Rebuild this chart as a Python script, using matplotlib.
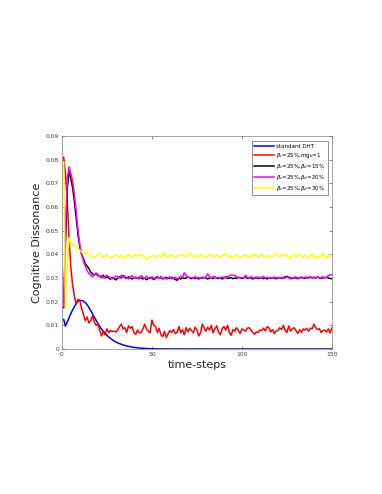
import numpy as np
import matplotlib
matplotlib.use("Agg")
import matplotlib.pyplot as plt

labels = ["standard DHT",
          r"$\beta_c$=25%,mg$_b$=1",
          r"$\beta_c$=25%,$\beta_d$=15%",
          r"$\beta_c$=25%,$\beta_d$=20%",
          r"$\beta_c$=25%,$\beta_d$=30%"]
colors = ["#0000ff", "#ff0000", "#000000", "#ff00ff", "#ffff00"]

blue = [0.0125, 0.0097, 0.0115, 0.0132, 0.0150, 0.0166, 0.0180, 0.0193, 0.0202, 0.0205,
        0.0205, 0.0202, 0.0196, 0.0187, 0.0176, 0.0163, 0.0149, 0.0135, 0.0121, 0.0108,
        0.0096, 0.0085, 0.0075, 0.0066, 0.0058, 0.0051, 0.0045, 0.0039, 0.0034, 0.0030,
        0.0026, 0.0023, 0.0020, 0.0017, 0.0015, 0.0013, 0.0011, 0.0010, 0.0008, 0.0007,
        0.0006, 0.0005, 0.0004, 0.00035, 0.0003, 0.00025, 0.0002, 0.00016, 0.00013, 0.0001,
        0.00008, 0.00006, 0.00005, 0.00004, 0.00003, 0.00002] + [0.0] * 94

red = [0.081, 0.074, 0.062, 0.047, 0.034, 0.027, 0.022, 0.019, 0.021, 0.0205,
       0.017, 0.0145, 0.012, 0.0135, 0.011, 0.012, 0.014, 0.0115, 0.010, 0.0105,
       0.008, 0.0055, 0.0075, 0.006, 0.0085, 0.0070, 0.0078, 0.0074, 0.0076, 0.0072,
       0.0080, 0.0095, 0.0105, 0.0085, 0.0090, 0.0070, 0.0098, 0.0088, 0.0095, 0.0070,
       0.0062, 0.0080, 0.0068, 0.0070, 0.0085, 0.0105, 0.0085, 0.0075, 0.0068, 0.0122,
       0.0100, 0.0095, 0.0070, 0.0088, 0.0060, 0.0052, 0.0075, 0.0048, 0.0065, 0.0078,
       0.0070, 0.0082, 0.0065, 0.0070, 0.0095, 0.0068, 0.0082, 0.0060, 0.0090, 0.0072,
       0.0088, 0.0078, 0.0068, 0.0092, 0.0080, 0.0055, 0.0068, 0.0105, 0.0090, 0.0075,
       0.0092, 0.0080, 0.0100, 0.0068, 0.0086, 0.0098, 0.0072, 0.0060, 0.0085, 0.0095,
       0.0080, 0.0100, 0.0070, 0.0058, 0.0082, 0.0075, 0.0090, 0.0080, 0.0065, 0.0085,
       0.0080, 0.0075, 0.0088, 0.0090, 0.0080, 0.0070, 0.0062, 0.0072, 0.0070, 0.0080,
       0.0078, 0.0088, 0.0076, 0.0094, 0.0090, 0.0072, 0.0082, 0.0065, 0.0076, 0.0078,
       0.0090, 0.0082, 0.0100, 0.0080, 0.0070, 0.0098, 0.0075, 0.0085, 0.0090, 0.0078,
       0.0066, 0.0082, 0.0070, 0.0085, 0.0080, 0.0087, 0.0075, 0.0088, 0.0085, 0.0105,
       0.0090, 0.0082, 0.0086, 0.0070, 0.0078, 0.0080, 0.0072, 0.0085, 0.0068, 0.0090]

black = [0.0175, 0.045, 0.068, 0.075, 0.072, 0.068, 0.062, 0.055, 0.048, 0.043,
         0.040, 0.038, 0.036, 0.035, 0.034, 0.0325, 0.0318, 0.0312, 0.0320, 0.0310,
         0.0308, 0.0302, 0.0312, 0.0300, 0.0305, 0.0300, 0.0295, 0.0302, 0.0298, 0.0292,
         0.0300, 0.0305, 0.0300, 0.0310, 0.0302, 0.0298, 0.0305, 0.0300, 0.0296, 0.0302,
         0.0300, 0.0298, 0.0303, 0.0300, 0.0296, 0.0300, 0.0293, 0.0298, 0.0302, 0.0300,
         0.0294, 0.0300, 0.0305, 0.0298, 0.0302, 0.0296, 0.0300, 0.0303, 0.0298, 0.0300,
         0.0302, 0.0298, 0.0294, 0.0290, 0.0300, 0.0296, 0.0302, 0.0298, 0.0300, 0.0305,
         0.0300, 0.0297, 0.0302, 0.0298, 0.0300, 0.0296, 0.0301, 0.0298, 0.0303, 0.0300,
         0.0296, 0.0300, 0.0302, 0.0298, 0.0304, 0.0300, 0.0298, 0.0302, 0.0296, 0.0300,
         0.0305, 0.0298, 0.0300, 0.0302, 0.0297, 0.0300, 0.0298, 0.0303, 0.0300, 0.0298,
         0.0300, 0.0306, 0.0298, 0.0302, 0.0300, 0.0296, 0.0300, 0.0303, 0.0298, 0.0300,
         0.0302, 0.0297, 0.0300, 0.0296, 0.0300, 0.0298, 0.0302, 0.0300, 0.0297, 0.0300,
         0.0302, 0.0298, 0.0300, 0.0305, 0.0307, 0.0303, 0.0300, 0.0298, 0.0302, 0.0300,
         0.0297, 0.0300, 0.0304, 0.0300, 0.0298, 0.0303, 0.0300, 0.0305, 0.0300, 0.0302,
         0.0300, 0.0305, 0.0300, 0.0298, 0.0302, 0.0300, 0.0304, 0.0300, 0.0298, 0.0297]

magenta = [0.018, 0.050, 0.072, 0.077, 0.074, 0.071, 0.065, 0.058, 0.050, 0.044,
           0.040, 0.037, 0.035, 0.033, 0.032, 0.0312, 0.0305, 0.0315, 0.0320, 0.0315,
           0.0305, 0.0310, 0.0300, 0.0305, 0.0312, 0.0305, 0.0300, 0.0296, 0.0302, 0.0308,
           0.0305, 0.0300, 0.0312, 0.0303, 0.0308, 0.0300, 0.0296, 0.0304, 0.0310, 0.0300,
           0.0305, 0.0298, 0.0296, 0.0310, 0.0303, 0.0298, 0.0308, 0.0300, 0.0296, 0.0305,
           0.0300, 0.0296, 0.0302, 0.0298, 0.0308, 0.0296, 0.0302, 0.0295, 0.0300, 0.0305,
           0.0296, 0.0300, 0.0303, 0.0297, 0.0300, 0.0308, 0.0302, 0.0322, 0.0310, 0.0305,
           0.0300, 0.0303, 0.0298, 0.0306, 0.0300, 0.0302, 0.0298, 0.0304, 0.0300, 0.0303,
           0.0318, 0.0305, 0.0300, 0.0306, 0.0302, 0.0300, 0.0303, 0.0299, 0.0305, 0.0302,
           0.0300, 0.0306, 0.0310, 0.0312, 0.0312, 0.0310, 0.0306, 0.0302, 0.0300, 0.0303,
           0.0300, 0.0312, 0.0303, 0.0300, 0.0306, 0.0300, 0.0302, 0.0298, 0.0304, 0.0300,
           0.0302, 0.0307, 0.0300, 0.0303, 0.0298, 0.0302, 0.0300, 0.0304, 0.0300, 0.0302,
           0.0300, 0.0303, 0.0298, 0.0300, 0.0304, 0.0300, 0.0296, 0.0302, 0.0300, 0.0305,
           0.0300, 0.0298, 0.0302, 0.0300, 0.0304, 0.0300, 0.0298, 0.0306, 0.0300, 0.0305,
           0.0300, 0.0304, 0.0298, 0.0302, 0.0306, 0.0300, 0.0303, 0.0310, 0.0314, 0.0312]

yellow = [0.079, 0.017, 0.035, 0.047, 0.045, 0.044, 0.0438, 0.0432, 0.0422, 0.0418,
          0.0410, 0.0405, 0.0402, 0.0408, 0.0400, 0.0395, 0.0390, 0.0385, 0.0392, 0.0398,
          0.0405, 0.0395, 0.0388, 0.0392, 0.0398, 0.0390, 0.0385, 0.0388, 0.0393, 0.0398,
          0.0392, 0.0387, 0.0395, 0.0390, 0.0382, 0.0392, 0.0400, 0.0395, 0.0388, 0.0393,
          0.0398, 0.0390, 0.0395, 0.0402, 0.0395, 0.0388, 0.0378, 0.0385, 0.0392, 0.0390,
          0.0395, 0.0388, 0.0392, 0.0396, 0.0388, 0.0398, 0.0405, 0.0392, 0.0388, 0.0395,
          0.0398, 0.0390, 0.0386, 0.0392, 0.0398, 0.0395, 0.0400, 0.0393, 0.0388, 0.0395,
          0.0405, 0.0398, 0.0390, 0.0395, 0.0388, 0.0392, 0.0398, 0.0395, 0.0390, 0.0386,
          0.0392, 0.0398, 0.0395, 0.0390, 0.0393, 0.0398, 0.0392, 0.0388, 0.0392, 0.0398,
          0.0402, 0.0395, 0.0388, 0.0392, 0.0386, 0.0392, 0.0398, 0.0392, 0.0388, 0.0390,
          0.0394, 0.0397, 0.0392, 0.0386, 0.0395, 0.0390, 0.0400, 0.0395, 0.0388, 0.0392,
          0.0398, 0.0392, 0.0388, 0.0395, 0.0390, 0.0386, 0.0393, 0.0398, 0.0402, 0.0395,
          0.0390, 0.0396, 0.0392, 0.0400, 0.0395, 0.0388, 0.0380, 0.0395, 0.0398, 0.0390,
          0.0394, 0.0400, 0.0392, 0.0388, 0.0396, 0.0390, 0.0388, 0.0392, 0.0405, 0.0388,
          0.0380, 0.0392, 0.0385, 0.0390, 0.0405, 0.0392, 0.0385, 0.0395, 0.0390, 0.0398]

series = [blue, red, black, magenta, yellow]

yticks = [0, 0.01, 0.02, 0.03, 0.04, 0.05, 0.06, 0.07, 0.08, 0.09]
ytick_labels = ["0", "0.01", "0.02", "0.03", "0.04", "0.05", "0.06", "0.07", "0.08", "0.09"]
xticks = [0, 50, 100, 150]

fig = plt.figure(figsize=(3.82, 4.94), dpi=100)
ax = fig.add_axes([0.162, 0.2935, 0.707, 0.4312])

for vals, c, lab in zip(series, colors, labels):
    t = np.arange(1, len(vals) + 1)
    ax.plot(t, vals, color=c, lw=1.1, label=lab)

ax.set_xlim(0, 150)
ax.set_ylim(0, 0.09)
ax.set_xticks(xticks)
ax.set_xticklabels([str(v) for v in xticks])
ax.set_yticks(yticks)
ax.set_yticklabels(ytick_labels)
ax.tick_params(direction="in", length=2, width=0.4, labelsize=4.3, colors="#404040",
               top=True, right=True, pad=2)
for sp in ax.spines.values():
    sp.set_linewidth(0.5)
    sp.set_color("#808080")

ax.set_xlabel("time-steps", fontsize=8, color="#262626", labelpad=2)
ax.set_ylabel("Cognitive Dissonance", fontsize=8, color="#262626", labelpad=3)

leg = ax.legend(loc="upper right", fontsize=4.0, frameon=True, fancybox=False,
                edgecolor="#404040", handlelength=3.6, borderpad=0.45,
                labelspacing=0.35, handletextpad=0.4, borderaxespad=0.0,
                bbox_to_anchor=(0.985, 0.975))
leg.get_frame().set_linewidth(0.5)
for h in leg.get_lines():
    h.set_linewidth(1.1)

fig.savefig("out.png", dpi=100)
